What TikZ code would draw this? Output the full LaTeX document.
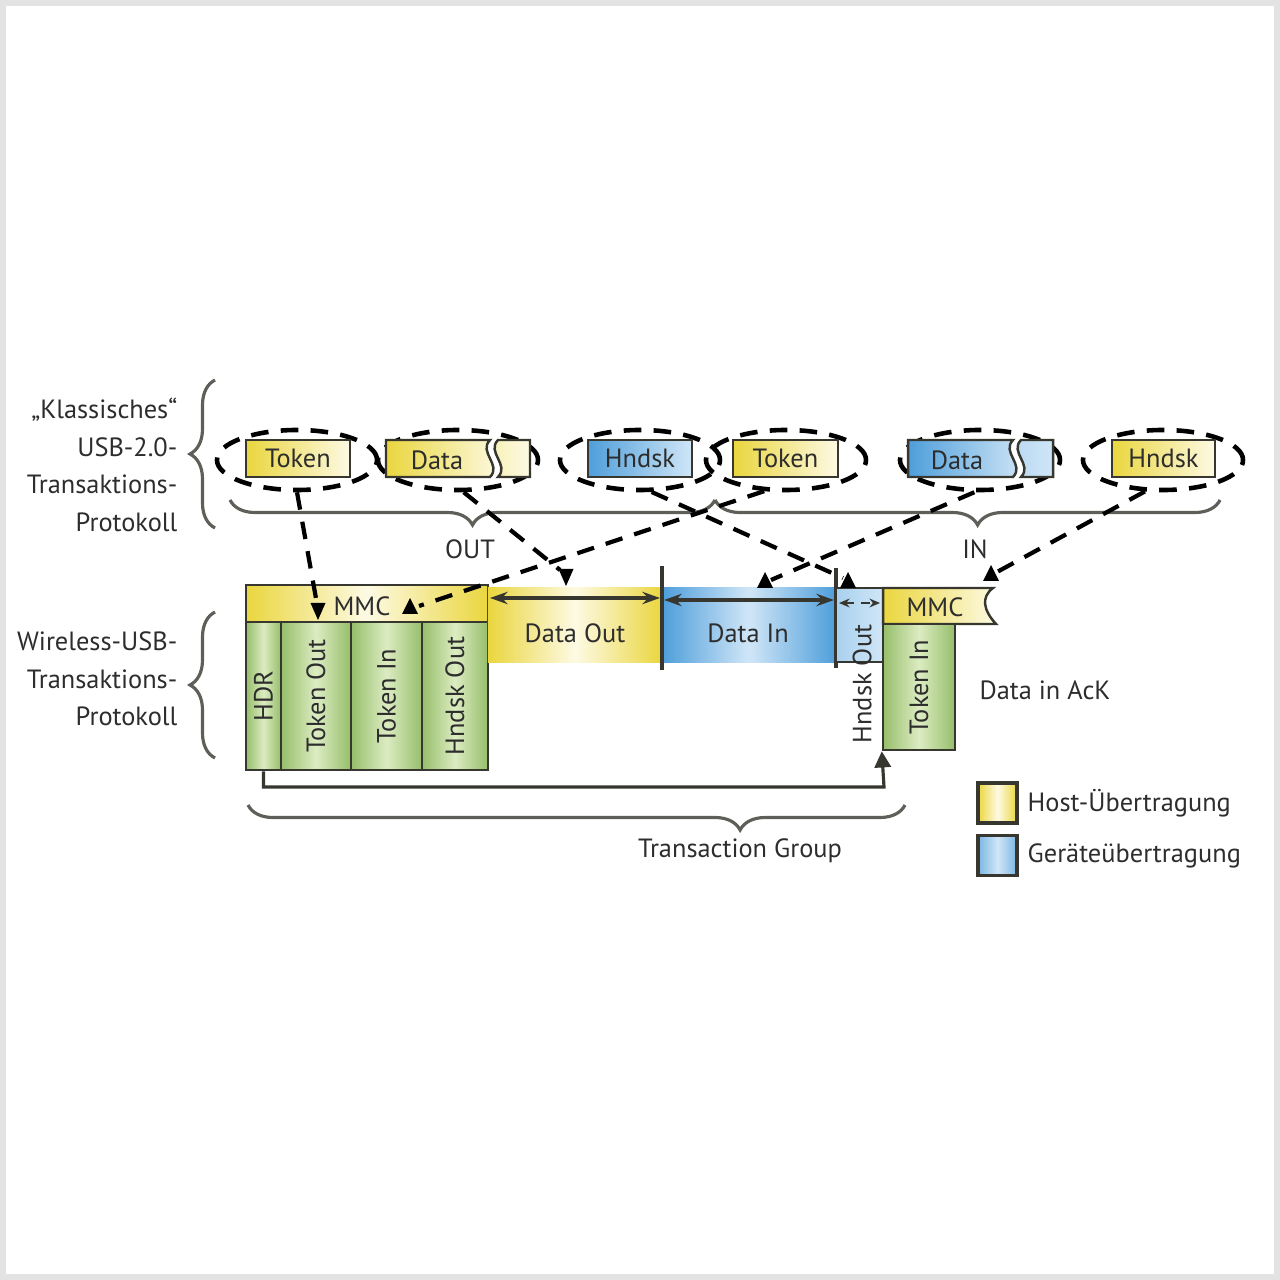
\documentclass[tikz,border=0pt]{standalone}
\usepackage{fontspec}
\setmainfont{PT Sans}
\usetikzlibrary{shapes.geometric,arrows.meta,decorations.pathreplacing}
\definecolor{yel}{RGB}{234,214,62}
\definecolor{yell}{RGB}{253,250,228}
\definecolor{blu}{RGB}{78,158,218}
\definecolor{blul}{RGB}{208,230,247}
\definecolor{grn}{RGB}{150,190,106}
\definecolor{grnl}{RGB}{220,236,194}
\definecolor{edge}{RGB}{55,55,48}
\definecolor{txt}{RGB}{45,45,45}
\newcommand\tridown[1]{\fill[black] (#1) -- ++(-7.5,-17) -- ++(15,0) -- cycle;}
\newcommand\triup[1]{\fill[black] (#1) -- ++(-8,16) -- ++(16,0) -- cycle;}
\begin{document}
\begin{tikzpicture}[x=0.01cm,y=-0.01cm,
  every node/.style={font=\fontsize{7.5}{10.7}\selectfont, text=txt, inner sep=0pt},
  ybox/.style={draw=edge, line width=0.7pt, left color=yel, right color=yell, minimum height=0.37cm},
  bbox/.style={draw=edge, line width=0.7pt, left color=blu, right color=blul, minimum height=0.37cm},
  gbox/.style={draw=edge, line width=0.7pt, left color=grn, right color=grn, middle color=grnl},
  yshade/.style={left color=yel, right color=yel, middle color=yell},
  bshade/.style={left color=blu, right color=blu, middle color=blul},
  ell/.style={draw=black, ellipse, line width=1.3pt, dash pattern=on 5pt off 3.5pt, minimum width=1.6cm, minimum height=0.6cm},
  dline/.style={draw=black, line width=1.2pt, dash pattern=on 5pt off 3.5pt},
  brc/.style={draw=edge!80, line width=0.9pt, decorate, decoration={brace, amplitude=0.25cm}},
  dbl/.style={draw=edge, line width=0.9pt, {Stealth[length=5pt,width=3.5pt]}-{Stealth[length=5pt,width=3.5pt]}}
]
\useasboundingbox (0,0) rectangle (1280,1280);
\draw[gray!22, line width=1.6pt] (3,3) rectangle (1277,1277);

% left labels and braces
\node[anchor=east, align=right] (lab1) at (178,465) {„Klassisches“\\USB-2.0-\\Transaktions-\\Protokoll};
\node[anchor=east, align=right] (lab2) at (178,679) {Wireless-USB-\\Transaktions-\\Protokoll};
\draw[brc] (215,528) -- (215,380);
\draw[brc] (215,758) -- (215,612);

% top ellipses
\node[ell] (e1) at (297,460) {};
\node[ell] (e2) at (458,460) {};
\node[ell] (e3) at (640,460) {};
\node[ell] (e4) at (786,460) {};
\node[ell] (e5) at (980,460) {};
\node[ell] (e6) at (1163,460) {};

% top boxes
\node[ybox, minimum width=1.04cm] (tok1) at (298,458.5) {Token};
\path[draw=edge, line width=0.7pt, left color=yel, right color=yell]
  (386,440) -- (490,440) .. controls (478,452) and (502,465) .. (490,477) -- (386,477) -- cycle;
\path[draw=edge, line width=0.7pt, left color=yell!70!yel, right color=yell]
  (498,440) -- (530,440) -- (530,477) -- (498,477) .. controls (510,465) and (486,452) .. (498,440) -- cycle;
\node (dat1) at (437,460) {Data};
\node[bbox, minimum width=1.04cm] (hs1) at (640,458.5) {Hndsk};
\node[ybox, minimum width=1.05cm] (tok2) at (785.5,458.5) {Token};
\path[draw=edge, line width=0.7pt, left color=blu, right color=blul]
  (908,440) -- (1013,440) .. controls (1001,452) and (1025,465) .. (1013,477) -- (908,477) -- cycle;
\path[draw=edge, line width=0.7pt, left color=blul!80!blu, right color=blul]
  (1021,440) -- (1053,440) -- (1053,477) -- (1021,477) .. controls (1033,465) and (1009,452) .. (1021,440) -- cycle;
\node (dat2) at (957,460) {Data};
\node[ybox, minimum width=1.03cm] (hs2) at (1163.5,458.5) {Hndsk};

% OUT / IN braces
\draw[brc] (715,500) -- (230,500);
\draw[brc, decoration={aspect=0.48}] (1220,500) -- (715,500);
\node (out) at (470,549) {OUT};
\node (in) at (975,549) {IN};

% wireless frame: MMC and green boxes
\node[draw=edge, line width=0.7pt, yshade, minimum width=2.42cm, minimum height=0.37cm] (mmc1) at (367,603.5) {};
\node (mmct) at (362,606) {MMC};
\node[gbox, minimum width=0.35cm, minimum height=1.48cm] (hdr) at (263.5,696) {};
\node[gbox, minimum width=0.70cm, minimum height=1.48cm] (tout) at (316,696) {};
\node[gbox, minimum width=0.71cm, minimum height=1.48cm] (tin) at (386.5,696) {};
\node[gbox, minimum width=0.66cm, minimum height=1.48cm] (hout) at (455,696) {};
\node[rotate=90] at (hdr) {HDR};
\node[rotate=90] at (tout) {Token Out};
\node[rotate=90] at (tin) {Token In};
\node[rotate=90] at (hout) {Hndsk Out};

% data out / data in
\node[yshade, minimum width=1.74cm, minimum height=0.74cm] (dout) at (575,625) {};
\node[bshade, minimum width=1.74cm, minimum height=0.74cm] (din) at (749,625) {};
\node (doutt) at (575,633) {Data Out};
\node (dint) at (748,633) {Data In};
\draw[edge, line width=1.2pt] (662,566) -- (662,670);
\draw[edge, line width=1.2pt] (836,568) -- (836,668);
\draw[dbl] (490,598) -- (660,598);
\draw[dbl] (664,600) -- (834,600);

% handshake out
\node[draw=edge, line width=0.7pt, left color=blul!70!blu, right color=blul, minimum width=0.47cm, minimum height=0.74cm] (hso) at (859.5,625) {};
\draw[edge, line width=0.8pt, dash pattern=on 2.5pt off 2pt, {Stealth[length=3pt,width=2.5pt]}-{Stealth[length=3pt,width=2.5pt]}] (839,603) -- (880,603);
\node[rotate=90] (hsot) at (862,684) {Hndsk Out};

% MMC 2 and token in
\path[draw=edge, line width=0.7pt, left color=yel, right color=yell]
  (883,588) -- (993,588) .. controls (981,597) and (983,610) .. (996,624) -- (883,624) -- cycle;
\node (mmc2) at (935,607) {MMC};
\node[gbox, minimum width=0.72cm, minimum height=1.26cm] (tin2) at (919,687) {};
\node[rotate=90] at (tin2) {Token In};
\node (ack) at (1045,690) {Data in AcK};

% group connector
\coordinate (hook) at (884,787);
\draw[edge, line width=0.9pt, -{Triangle[length=4.6pt,width=4.6pt]}] (hdr.south) |- (hook) -- (tin2.south west);
\draw[brc, decoration={aspect=0.251}] (905,805) -- (248,805);
\node (tg) at (740,851) {Transaction Group};

% dashed mapping connectors
\coordinate (a1) at (318,620);
\coordinate (a2) at (566,586);
\coordinate (a3) at (410,598);
\coordinate (a4) at (848,572);
\coordinate (a5) at (765,572);
\coordinate (a6) at (991,565);
\draw[dline] (e1.south) -- (317,604);
\tridown{a1}
\draw[dline] (e2.-80) -- (560,570);
\tridown{a2}
\draw[dline] (e4.-125) -- (419,606);
\triup{a3}
\draw[dline] (e3.-70) -- (843,578);
\triup{a4}
\draw[dline] (e5.-100) -- (771,580);
\triup{a5}
\draw[dline] (e6.-120) -- (997,572);
\triup{a6}

% legend
\node[draw=edge, line width=1.1pt, yshade, minimum width=0.39cm, minimum height=0.40cm] (leg1) at (997.5,803) {};
\node[anchor=west] (leg1t) at (1027,803) {Host-Übertragung};
\node[draw=edge, line width=1.1pt, left color=blu!75, right color=blu!75, middle color=blul, minimum width=0.39cm, minimum height=0.40cm] (leg2) at (997.5,855.5) {};
\node[anchor=west] (leg2t) at (1027,856) {Geräteübertragung};
\end{tikzpicture}
\end{document}
